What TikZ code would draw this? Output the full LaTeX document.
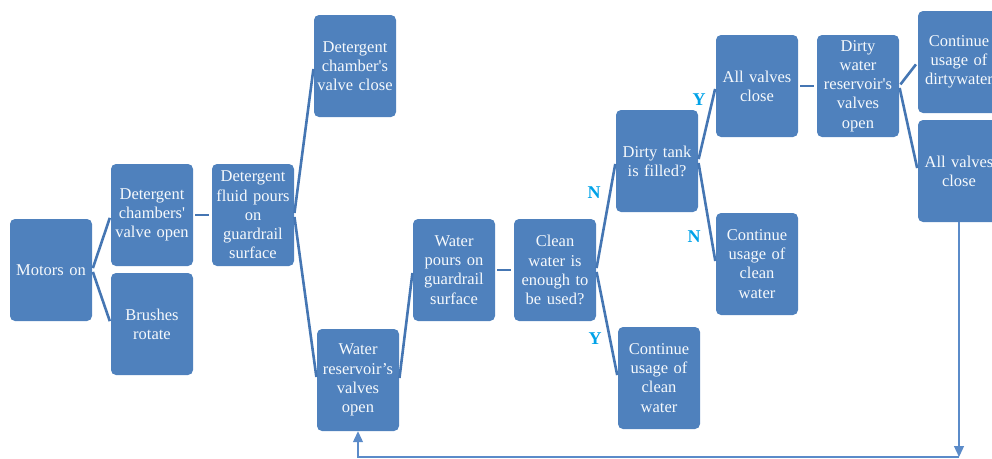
\documentclass[tikz,border=0pt]{standalone}
\usepackage{fontspec}
\setmainfont{Liberation Serif}
\usetikzlibrary{arrows.meta}
\definecolor{boxblue}{HTML}{4F81BD}
\definecolor{linkblue}{HTML}{4576B3}
\definecolor{backblue}{HTML}{5B8BC9}
\definecolor{labcyan}{HTML}{00A2E8}

\begin{document}
\begin{tikzpicture}[x=1pt, y=-1pt,
box/.style={fill=boxblue, rounded corners=5pt, minimum width=82pt, minimum height=102pt,
  text width=80pt, align=center, inner sep=0pt, text=white!95!boxblue,
  font=\fontsize{16.5}{19.2}\selectfont},
link/.style={draw=linkblue, line width=2.6pt, shorten <=2pt, shorten >=3pt},
yn/.style={text=labcyan, font=\bfseries\fontsize{18}{18}\selectfont},
back/.style={draw=backblue, line width=1.2pt}
]
\useasboundingbox (0,0) rectangle (992,458);
\clip (0,0) rectangle (992,458);

\node[box] (motor) at (51,270) {Motors on};
\node[box] (dcopen) at (152,215) {Detergent\\chambers\textquotesingle\\valve open};
\node[box] (brush) at (152,324) {Brushes\\rotate};
\node[box] (dfpour) at (253,215) {Detergent\\fluid pours\\on\\guardrail\\surface};
\node[box] (dcclose) at (355,66) {Detergent\\chamber\textquotesingle s\\valve close};
\node[box] (wro) at (358,380) {Water\\reservoir's\\valves\\open};
\node[box] (wpour) at (454,270) {Water\\pours on\\guardrail\\surface};
\node[box] (clean) at (555,270) {Clean\\water is\\enough to\\be used?};
\node[box] (dirty) at (657,161) {Dirty tank\\is filled?};
\node[box] (ccwa) at (659,378) {Continue\\usage of\\clean\\water};
\node[box] (avone) at (757,86) {All valves\\close};
\node[box] (ccwb) at (757,264) {Continue\\usage of\\clean\\water};
\node[box] (dwr) at (858,86) {Dirty\\water\\reservoir\textquotesingle s\\valves\\open};
\node[box] (cdw) at (959,62) {Continue\\usage of\\dirtywater};
\node[box] (avtwo) at (959,171) {All valves\\close};

\node[yn] (n1) at (594,193) {N};
\node[yn] (y1) at (595,339) {Y};
\node[yn] (y2) at (699,100) {Y};
\node[yn] (n2) at (694,237) {N};

\draw[link] (motor.east) -- (dcopen.west);
\draw[link] (motor.east) -- (brush.west);
\draw[link] (dcopen.east) -- (dfpour.west);
\draw[link] (dfpour.east) -- (dcclose.west);
\draw[link] (dfpour.east) -- (wro.west);
\draw[link] (wro.east) -- (wpour.west);
\draw[link] (wpour.east) -- (clean.west);
\draw[link] (clean.east) -- (dirty.west);
\draw[link] (clean.east) -- (ccwa.west);
\draw[link] (dirty.east) -- (avone.west);
\draw[link] (dirty.east) -- (ccwb.west);
\draw[link] (avone.east) -- (dwr.west);
\draw[link] (dwr.east) -- (cdw.west);
\draw[link] (dwr.east) -- (avtwo.west);

\coordinate (fbr) at (avtwo.south |- 0,457);
\coordinate (fbl) at (wro.south |- 0,457);
\draw[back, -{Triangle[width=10pt,length=11pt]}] (avtwo.south) -- (fbr);
\draw[back, -{Triangle[width=10pt,length=11pt]}] (fbr) -- (fbl) -- (wro.south);

\end{tikzpicture}
\end{document}
